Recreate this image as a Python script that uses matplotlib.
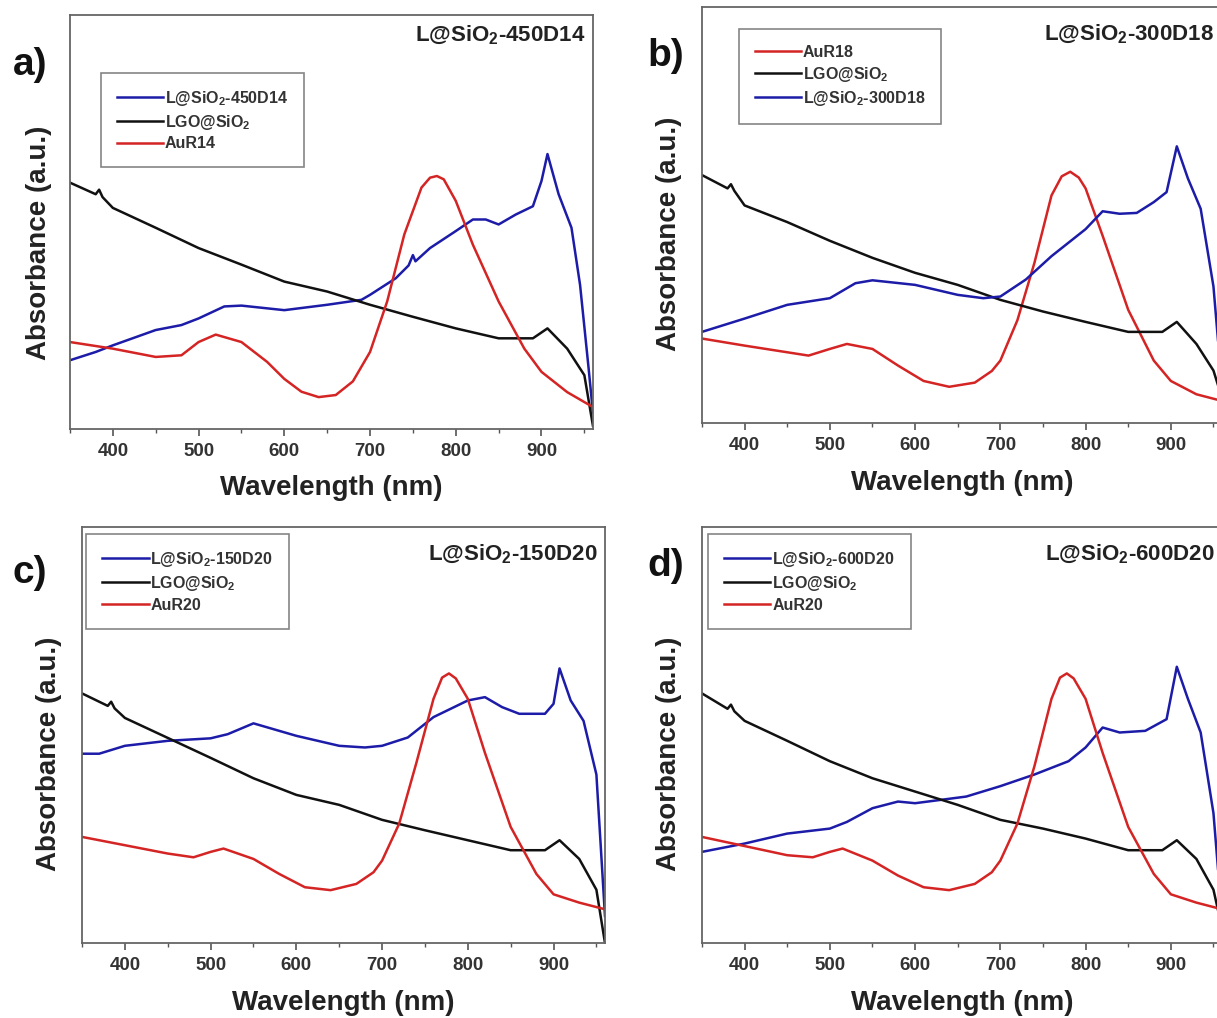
import matplotlib
matplotlib.use('Agg')
import matplotlib.pyplot as plt

plt.rcParams['font.family'] = ['Liberation Sans', 'DejaVu Sans']
plt.rcParams['mathtext.fontset'] = 'custom'
plt.rcParams['mathtext.rm'] = 'Liberation Sans'
plt.rcParams['mathtext.bf'] = 'Liberation Sans:bold'

BLUE = '#1c1ca8'
BLACK = '#111111'
RED = '#d42424'

# ---- panel a ----
a_blue_x = [350, 380, 400, 450, 480, 500, 530, 550, 600, 650, 690, 700, 730, 745, 750, 753, 770, 800, 820, 835, 850, 870, 890, 900, 907, 920, 935, 945, 955, 960]
a_blue_y = [16.6, 18.6, 20.2, 23.9, 25.1, 26.7, 29.6, 29.8, 28.7, 30.0, 31.2, 32.4, 36.4, 39.5, 42.0, 40.5, 43.7, 47.8, 50.6, 50.6, 49.4, 51.8, 53.8, 59.9, 66.4, 56.7, 48.6, 34.8, 14.6, 4.0]
a_black_x = [350, 380, 384, 388, 400, 450, 500, 550, 600, 650, 700, 750, 800, 850, 890, 907, 930, 950, 960]
a_black_y = [59.5, 56.7, 57.8, 56.0, 53.4, 48.6, 43.7, 39.7, 35.6, 33.2, 30.0, 27.1, 24.3, 21.9, 21.9, 24.3, 19.4, 13.0, 0.8]
a_red_x = [350, 400, 450, 480, 500, 520, 550, 580, 600, 620, 640, 660, 680, 700, 720, 740, 760, 770, 778, 786, 800, 820, 850, 880, 900, 930, 960]
a_red_y = [21.0, 19.4, 17.4, 17.8, 21.0, 22.8, 21.0, 16.2, 12.1, 9.0, 7.7, 8.2, 11.5, 18.6, 30.8, 47.0, 58.3, 60.7, 61.1, 60.3, 55.1, 44.5, 30.8, 19.4, 13.8, 8.9, 5.3]

# ---- panel b ----
b_blue_x = [350, 400, 450, 500, 530, 550, 600, 650, 680, 700, 730, 760, 800, 820, 840, 860, 880, 895, 907, 920, 935, 950, 960]
b_blue_y = [21.9, 25.1, 28.4, 30.0, 33.6, 34.3, 33.2, 30.8, 30.0, 30.4, 34.5, 40.1, 46.6, 50.9, 50.3, 50.5, 53.1, 55.5, 66.5, 58.8, 51.5, 32.8, 8.5]
b_black_x = [350, 380, 384, 388, 400, 450, 500, 550, 600, 650, 700, 750, 800, 850, 890, 907, 930, 950, 960]
b_black_y = [59.6, 56.4, 57.4, 55.8, 52.3, 48.3, 43.8, 39.7, 36.1, 33.2, 29.6, 26.8, 24.3, 21.9, 21.9, 24.3, 19.0, 12.6, 6.0]
b_red_x = [350, 400, 450, 475, 500, 520, 550, 580, 610, 640, 670, 690, 700, 720, 740, 760, 772, 782, 792, 800, 820, 850, 880, 900, 930, 960]
b_red_y = [20.3, 18.6, 17.0, 16.2, 17.8, 19.0, 17.8, 13.8, 10.1, 8.7, 9.7, 12.5, 15.0, 24.7, 38.5, 54.7, 59.3, 60.4, 59.0, 56.4, 45.0, 27.2, 15.0, 10.1, 6.9, 5.3]

# ---- panel c ----
c_blue_x = [350, 370, 400, 450, 500, 520, 550, 600, 650, 680, 700, 730, 760, 800, 820, 840, 860, 890, 900, 907, 920, 935, 950, 960]
c_blue_y = [45.5, 45.5, 47.4, 48.6, 49.2, 50.2, 52.8, 49.8, 47.4, 47.0, 47.4, 49.4, 54.3, 58.3, 59.1, 56.7, 55.1, 55.1, 57.5, 66.0, 58.3, 53.4, 40.5, 6.5]
c_black_x = [350, 380, 384, 388, 400, 450, 500, 550, 600, 650, 700, 750, 800, 850, 890, 907, 930, 950, 960]
c_black_y = [60.0, 57.0, 58.0, 56.4, 54.1, 49.3, 44.5, 39.6, 35.6, 33.2, 29.6, 27.1, 24.7, 22.3, 22.3, 24.7, 20.2, 12.8, 0.0]
c_red_x = [350, 400, 450, 480, 500, 515, 550, 580, 610, 640, 670, 690, 700, 720, 740, 760, 770, 778, 786, 800, 820, 850, 880, 900, 930, 960]
c_red_y = [25.5, 23.5, 21.5, 20.6, 21.9, 22.7, 20.2, 16.6, 13.4, 12.7, 14.2, 17.0, 19.8, 28.7, 43.3, 58.7, 63.8, 64.8, 63.6, 58.7, 45.7, 27.9, 16.6, 11.7, 9.7, 8.1]

# ---- panel d ----
d_blue_x = [350, 380, 400, 450, 500, 520, 550, 580, 600, 630, 660, 700, 740, 780, 800, 820, 840, 870, 895, 907, 920, 935, 950, 960]
d_blue_y = [21.9, 23.1, 23.9, 26.3, 27.5, 29.1, 32.4, 34.0, 33.6, 34.4, 35.2, 37.7, 40.5, 43.7, 47.0, 51.8, 50.6, 51.0, 53.8, 66.4, 58.7, 50.6, 31.2, 6.0]
d_black_x = [350, 380, 384, 388, 400, 450, 500, 550, 600, 650, 700, 750, 800, 850, 890, 907, 930, 950, 960]
d_black_y = [60.0, 56.3, 57.3, 55.7, 53.4, 48.6, 43.7, 39.6, 36.4, 33.2, 29.6, 27.5, 25.1, 22.3, 22.3, 24.7, 20.2, 12.8, 3.6]
d_red_x = [350, 400, 450, 480, 500, 515, 550, 580, 610, 640, 670, 690, 700, 720, 740, 760, 770, 778, 786, 800, 820, 850, 880, 900, 930, 960]
d_red_y = [25.5, 23.3, 21.1, 20.6, 21.9, 22.7, 19.8, 16.2, 13.4, 12.7, 14.2, 17.0, 19.8, 28.7, 42.5, 58.7, 63.8, 64.8, 63.6, 58.7, 45.7, 27.9, 16.6, 11.7, 9.7, 8.1]

LGO = r'LGO@SiO$_\mathbf{2}$'

panels = [
    # rect, letter, letter pos, title, title y, series (label, x, y, color), legend anchor, ylabel pos
    ([0.0575, 0.5786, 0.4297, 0.4067], 'a)', (0.0247, 0.936), r'L@SiO$_\mathbf{2}$-450D14', 0.95,
     [(r'L@SiO$_\mathbf{2}$-450D14', a_blue_x, a_blue_y, BLUE), (LGO, a_black_x, a_black_y, BLACK),
      ('AuR14', a_red_x, a_red_y, RED)], (0.059, 0.86), (-0.034, 0.45)),
    ([0.5768, 0.5845, 0.4273, 0.4086], 'b)', (0.547, 0.945), r'L@SiO$_\mathbf{2}$-300D18', 0.935,
     [('AuR18', b_red_x, b_red_y, RED), (LGO, b_black_x, b_black_y, BLACK),
      (r'L@SiO$_\mathbf{2}$-300D18', b_blue_x, b_blue_y, BLUE)], (0.071, 0.947), (-0.038, 0.454)),
    ([0.0674, 0.0737, 0.4297, 0.4086], 'c)', (0.0247, 0.437), r'L@SiO$_\mathbf{2}$-150D20', 0.935,
     [(r'L@SiO$_\mathbf{2}$-150D20', c_blue_x, c_blue_y, BLUE), (LGO, c_black_x, c_black_y, BLACK),
      ('AuR20', c_red_x, c_red_y, RED)], (0.008, 0.983), (-0.038, 0.454)),
    ([0.5768, 0.0737, 0.4273, 0.4086], 'd)', (0.547, 0.444), r'L@SiO$_\mathbf{2}$-600D20', 0.935,
     [(r'L@SiO$_\mathbf{2}$-600D20', d_blue_x, d_blue_y, BLUE), (LGO, d_black_x, d_black_y, BLACK),
      ('AuR20', d_red_x, d_red_y, RED)], (0.012, 0.983), (-0.038, 0.454)),
]

fig = plt.figure(figsize=(12.17, 10.18), dpi=100)

for rect, letter, lpos, title, ty, series, leg_anchor, ylab_pos in panels:
    ax = fig.add_axes(rect)
    for label, xs, ys, col in series:
        ax.plot(xs, ys, color=col, lw=1.8, label=label)
    ax.set_xlim(350, 960)
    ax.set_ylim(0, 100)
    ax.set_xticks([400, 500, 600, 700, 800, 900])
    ax.set_xticks(range(350, 961, 50), minor=True)
    ax.set_yticks([])
    ax.tick_params(axis='x', which='major', direction='out', length=5, width=1.2,
                   color='#555555', labelsize=13.5, labelcolor='#333333', pad=5)
    ax.tick_params(axis='x', which='minor', direction='out', length=3, width=1.0, color='#555555')
    for lab in ax.get_xticklabels():
        lab.set_fontweight('bold')
    for sp in ax.spines.values():
        sp.set_color('#666666')
        sp.set_linewidth(1.3)
    ax.set_xlabel('Wavelength (nm)', fontsize=20, fontweight='bold', color='#222222')
    ax.xaxis.set_label_coords(0.5, -0.112)
    ax.set_ylabel('Absorbance (a.u.)', fontsize=20, fontweight='bold', color='#222222')
    ax.yaxis.set_label_coords(*ylab_pos)
    ax.text(0.985, ty, title, transform=ax.transAxes, ha='right', va='center',
            fontsize=16, fontweight='bold', color='#222222')
    leg = ax.legend(loc='upper left', bbox_to_anchor=leg_anchor, fontsize=11.5,
                    handlelength=2.9, handletextpad=0.1, labelspacing=0.3,
                    borderpad=1.0, borderaxespad=0, fancybox=False, frameon=True)
    leg.get_frame().set_edgecolor('#666666')
    leg.get_frame().set_linewidth(1.2)
    for t in leg.get_texts():
        t.set_fontweight('bold')
        t.set_color('#333333')
    fig.text(lpos[0], lpos[1], letter, fontsize=28, fontweight='bold',
             ha='center', va='center', color='#111111')

fig.savefig('out.png', dpi=100)
